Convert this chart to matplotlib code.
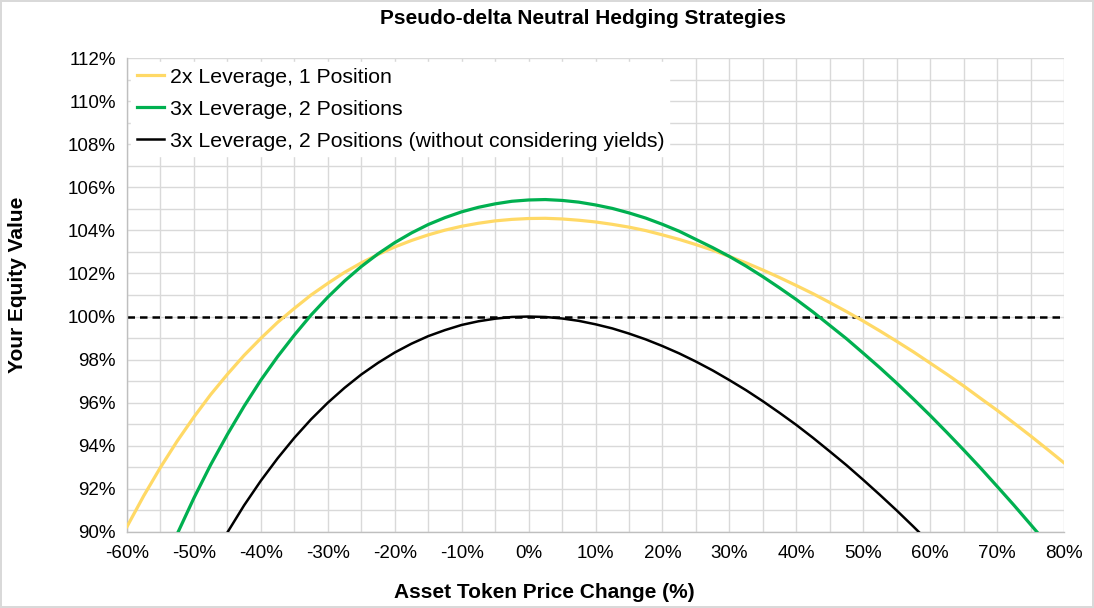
import matplotlib
matplotlib.use("Agg")
import matplotlib.pyplot as plt
from matplotlib.ticker import FuncFormatter, MultipleLocator

plt.rcParams["font.family"] = ["Liberation Sans", "DejaVu Sans"]

# price change (%) and equity value (%), every 2.5%
price_change = [-60, -57.5, -55, -52.5, -50, -47.5, -45, -42.5, -40, -37.5,
                -35, -32.5, -30, -27.5, -25, -22.5, -20, -17.5, -15, -12.5,
                -10, -7.5, -5, -2.5, 0, 2.5, 5, 7.5, 10, 12.5,
                15, 17.5, 20, 22.5, 25, 27.5, 30, 32.5, 35, 37.5,
                40, 42.5, 45, 47.5, 50, 52.5, 55, 57.5, 60, 62.5,
                65, 67.5, 70, 72.5, 75, 77.5, 80]

lev2_pos1 = [90.25, 91.68, 93.0, 94.22, 95.34, 96.38, 97.32, 98.2, 98.99, 99.73,
             100.38, 101.0, 101.54, 102.05, 102.49, 102.88, 103.23, 103.53, 103.79, 104.01,
             104.19, 104.33, 104.44, 104.51, 104.55, 104.56, 104.53, 104.47, 104.39, 104.28,
             104.15, 103.99, 103.79, 103.58, 103.34, 103.08, 102.79, 102.49, 102.16, 101.81,
             101.44, 101.06, 100.65, 100.23, 99.79, 99.33, 98.85, 98.36, 97.84, 97.32,
             96.78, 96.21, 95.65, 95.06, 94.46, 93.84, 93.21]

lev3_pos2 = [84.0, 86.13, 88.09, 89.91, 91.58, 93.12, 94.53, 95.84, 97.05, 98.14,
             99.14, 100.07, 100.9, 101.65, 102.32, 102.91, 103.43, 103.88, 104.27, 104.59,
             104.86, 105.07, 105.23, 105.35, 105.41, 105.43, 105.39, 105.31, 105.18, 105.02,
             104.81, 104.57, 104.28, 103.96, 103.58, 103.2, 102.79, 102.34, 101.85, 101.33,
             100.79, 100.21, 99.59, 98.97, 98.3, 97.62, 96.91, 96.17, 95.41, 94.62,
             93.81, 92.98, 92.12, 91.25, 90.35, 89.44, 88.5]

lev3_pos2_no_yield = [79.75, 81.83, 83.74, 85.51, 87.13, 88.62, 89.98, 91.24, 92.38, 93.42,
                      94.37, 95.23, 96.0, 96.69, 97.31, 97.85, 98.33, 98.74, 99.09, 99.37,
                      99.61, 99.78, 99.9, 99.98, 100.0, 99.98, 99.91, 99.8, 99.64, 99.45,
                      99.21, 98.94, 98.63, 98.29, 97.91, 97.5, 97.05, 96.58, 96.07, 95.53,
                      94.97, 94.37, 93.74, 93.1, 92.42, 91.72, 91.0, 90.25, 89.48, 88.68,
                      87.86, 87.02, 86.15, 85.27, 84.36, 83.44, 82.5]

labels = ["2x Leverage, 1 Position",
          "3x Leverage, 2 Positions",
          "3x Leverage, 2 Positions (without considering yields)"]

fig = plt.figure(figsize=(10.94, 6.08), dpi=100)
fig.patch.set_edgecolor("#d9d9d9")
fig.patch.set_linewidth(1.5)
ax = fig.add_axes([0.1161, 0.125, 0.8565, 0.7796])

ax.plot(price_change, lev2_pos1, color="#FFD966", lw=2.3, label=labels[0], zorder=3)
ax.plot(price_change, lev3_pos2, color="#00B050", lw=2.3, label=labels[1], zorder=3)
ax.plot(price_change, lev3_pos2_no_yield, color="black", lw=1.8, label=labels[2], zorder=3)
ax.axhline(100, color="black", lw=1.8, ls=(0, (3, 2)), zorder=2)

ax.set_xlim(-60, 80)
ax.set_ylim(90, 112)
ax.xaxis.set_major_locator(MultipleLocator(10))
ax.xaxis.set_minor_locator(MultipleLocator(5))
ax.yaxis.set_major_locator(MultipleLocator(2))
ax.yaxis.set_minor_locator(MultipleLocator(1))
ax.xaxis.set_major_formatter(FuncFormatter(lambda v, _: f"{v:.0f}%"))
ax.yaxis.set_major_formatter(FuncFormatter(lambda v, _: f"{v:.0f}%"))
ax.grid(which="both", color="#d9d9d9", lw=1.0, zorder=0)
ax.set_axisbelow(True)
ax.tick_params(which="both", length=0, labelsize=13.5)
ax.tick_params(axis="x", pad=9)
ax.tick_params(axis="y", pad=8)
for side in ("top", "right"):
    ax.spines[side].set_visible(False)
for side in ("left", "bottom"):
    ax.spines[side].set_color("#bfbfbf")
    ax.spines[side].set_linewidth(1.0)

leg = ax.legend(loc="upper left", fontsize=15.3, frameon=True, fancybox=False,
                handlelength=1.3, handletextpad=0.25, borderaxespad=0.2,
                labelspacing=0.62, borderpad=0.25)
leg.get_frame().set_edgecolor("white")
leg.get_frame().set_alpha(1.0)

fig.text(0.533, 0.97, "Pseudo-delta Neutral Hedging Strategies", ha="center", va="center",
         fontsize=15, fontweight="bold")
fig.text(0.498, 0.0247, "Asset Token Price Change (%)", ha="center", va="center",
         fontsize=15, fontweight="bold")
fig.text(0.016, 0.532, "Your Equity Value", ha="center", va="center", rotation=90,
         fontsize=15, fontweight="bold")

fig.savefig("out.png", dpi=100)
